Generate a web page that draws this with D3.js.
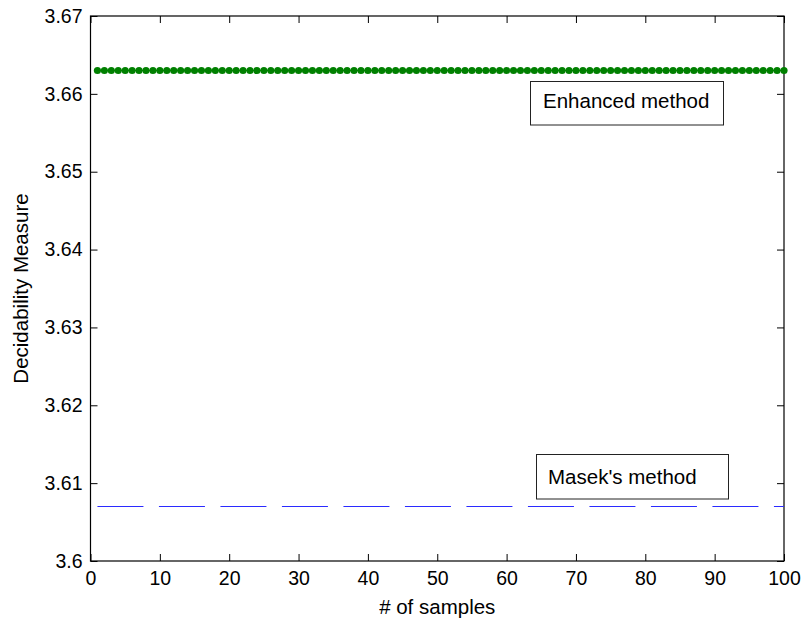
<!DOCTYPE html>
<html>
<head>
<meta charset="utf-8">
<script src="https://cdn.jsdelivr.net/npm/d3@7"></script>
<style>
  body { margin: 0; background: #fff; }
  svg text { font-family: Arial, "Liberation Sans", sans-serif; fill: #000; }
</style>
</head>
<body>
<svg id="chart" width="805" height="624"></svg>
<script>
// Sample indices and decidability values for the two methods
const samples = d3.range(1, 101);
const enhancedValue = 3.663;
const masekValue = 3.607;
const enhanced = samples.map(() => enhancedValue);
const masek = samples.map(() => masekValue);

const xTicks = [0, 10, 20, 30, 40, 50, 60, 70, 80, 90, 100];
const yTicks = [3.6, 3.61, 3.62, 3.63, 3.64, 3.65, 3.66, 3.67];
const seriesNames = ["Enhanced method", "Masek's method"];

const svg = d3.select("#chart");
const m = { left: 90.5, right: 784, top: 16, bottom: 561 };

const x = d3.scaleLinear().domain([0, 100]).range([m.left, m.right]);
const y = d3.scaleLinear().domain([3.6, 3.67]).range([m.bottom, m.top]);

const tickFont = 19.5;
const labelFont = 20.5;
const tickLen = 7;

// Axes: ticks point inward on all four sides
const bottomAxis = d3.axisBottom(x).tickValues(xTicks).tickSize(-tickLen).tickPadding(10).tickFormat(d3.format("d"));
const topAxis = d3.axisTop(x).tickValues(xTicks).tickSize(-tickLen).tickFormat("");
const leftAxis = d3.axisLeft(y).tickValues(yTicks).tickSize(-tickLen).tickPadding(8).tickFormat(d => d3.format("")(+d.toFixed(2)));
const rightAxis = d3.axisRight(y).tickValues(yTicks).tickSize(-tickLen).tickFormat("");

function styleAxis(g) {
  g.selectAll("path.domain").remove();
  g.selectAll(".tick line").attr("stroke", "#000").attr("stroke-width", 1);
  g.selectAll(".tick text").attr("font-size", tickFont).attr("font-family", "Arial, 'Liberation Sans', sans-serif").attr("fill", "#000");
}

svg.append("g").attr("transform", `translate(0,${m.bottom})`).call(bottomAxis).call(styleAxis);
svg.append("g").attr("transform", `translate(0,${m.top})`).call(topAxis).call(styleAxis);
svg.append("g").attr("transform", `translate(${m.left},0)`).call(leftAxis).call(styleAxis);
svg.append("g").attr("transform", `translate(${m.right},0)`).call(rightAxis).call(styleAxis);

// Plot frame
svg.append("rect")
  .attr("x", m.left).attr("y", m.top)
  .attr("width", m.right - m.left).attr("height", m.bottom - m.top)
  .attr("fill", "none").attr("stroke", "#000").attr("stroke-width", 1.2);

// Masek's method: blue dashed line
const line = d3.line().x((d, i) => x(samples[i])).y(d => y(d));
svg.append("path")
  .datum(masek)
  .attr("d", line)
  .attr("fill", "none")
  .attr("stroke", "#2b2bff")
  .attr("stroke-width", 1.2)
  .attr("stroke-dasharray", "46,15.5");

// Enhanced method: green dotted markers along a green line
svg.append("path")
  .datum(enhanced)
  .attr("d", line)
  .attr("fill", "none")
  .attr("stroke", "#008000")
  .attr("stroke-width", 1);

svg.append("g").selectAll("circle")
  .data(enhanced)
  .join("circle")
  .attr("cx", (d, i) => x(samples[i]))
  .attr("cy", d => y(d))
  .attr("r", 3.6)
  .attr("fill", "#008000");

// Text boxes naming each series
function labelBox(x0, y0, w, h, text, tx, ty) {
  svg.append("rect")
    .attr("x", x0).attr("y", y0).attr("width", w).attr("height", h)
    .attr("fill", "#fff").attr("stroke", "#222").attr("stroke-width", 1);
  svg.append("text")
    .attr("x", tx).attr("y", ty)
    .attr("font-size", labelFont)
    .text(text);
}
labelBox(530.5, 81.5, 193, 43.5, seriesNames[0], 543, 108);
labelBox(536.5, 454.5, 192, 44.5, seriesNames[1], 548, 484);

// Axis titles
svg.append("text")
  .attr("x", (m.left + m.right) / 2)
  .attr("y", 614)
  .attr("text-anchor", "middle")
  .attr("font-size", labelFont)
  .text("# of samples");

svg.append("text")
  .attr("transform", `translate(28,${(m.top + m.bottom) / 2}) rotate(-90)`)
  .attr("text-anchor", "middle")
  .attr("font-size", labelFont)
  .text("Decidability Measure");
</script>
</body>
</html>
